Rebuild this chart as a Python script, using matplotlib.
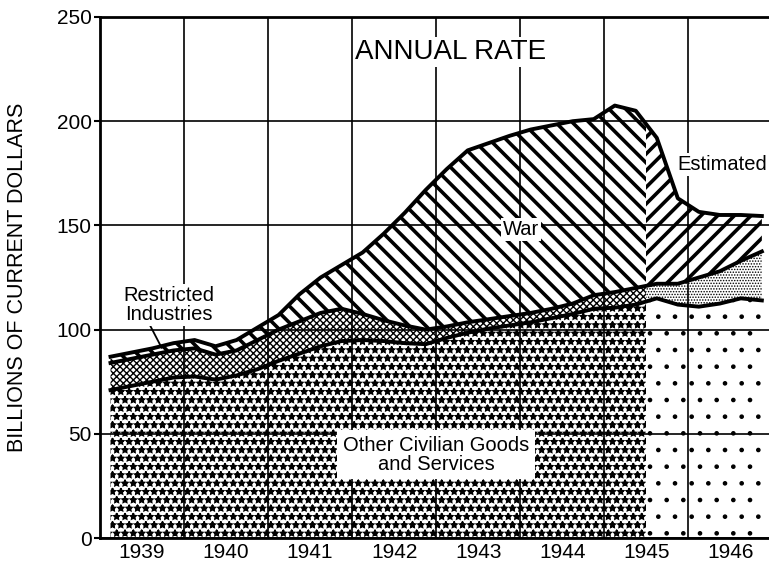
import numpy as np
import matplotlib.pyplot as plt
from matplotlib.patches import Rectangle

plt.rcParams['font.family'] = ['Liberation Sans', 'DejaVu Sans']

years = [1939, 1940, 1941, 1942, 1943, 1944, 1945, 1946]
quarter_mid = [0.125, 0.375, 0.625, 0.875]
estimate_start = 1945.5   # second half of 1945 on is estimated

# billions of current dollars, annual rate, one value per quarter
civilian = [71, 73, 75, 77, 77.5, 76, 78, 81, 85, 88.5, 92, 94.5,
            95, 94.5, 93.5, 93, 96, 98.5, 100.5, 102, 103.5, 105.5, 107.5, 110,
            110.5, 112, 115, 112, 111, 112.5, 115, 114]
restricted = [13, 13, 13, 13, 13.5, 12, 12, 14, 15, 15.5, 16, 15.5,
              12.5, 10, 8.5, 7, 5.5, 5, 4.5, 4.5, 4.5, 4.5, 5, 6.5,
              7.5, 8, 7, 10, 14, 15.5, 18, 23.5]
war = [3, 3, 3, 3.5, 4, 4, 5, 6, 7, 13, 17, 21,
       29.5, 41.5, 54, 67, 75.5, 82.5, 84.5, 86.5, 88, 88, 87.5, 84.5,
       89.5, 85, 70, 41, 31.5, 27, 22, 17]

x = np.array([yr + q for yr in years for q in quarter_mid])
civ_top = np.array(civilian)
res_top = civ_top + np.array(restricted)
total = res_top + np.array(war)

fig = plt.figure(figsize=(7.69, 5.63), dpi=100)
ax = fig.add_axes([100 / 769, 1 - 538 / 563, 669 / 769, 521 / 563])


def band(lower, upper, hatch, hlw, x0, x1):
    with plt.rc_context({'hatch.linewidth': hlw}):
        poly = ax.fill_between(x, lower, upper, facecolor='white', edgecolor='black',
                               hatch=hatch, linewidth=0, zorder=1)
    if hasattr(poly, 'set_hatch_linewidth'):
        poly.set_hatch_linewidth(hlw)
    poly.set_clip_path(Rectangle((x0, -10), x1 - x0, 300, transform=ax.transData))
    return poly


# actual
band(0, civ_top, '**', 1.2, 1938, estimate_start)
band(civ_top, res_top, 'xxxxx', 1.0, 1938, estimate_start)
band(res_top, total, '\\\\', 2.6, 1938, estimate_start)
# estimated
band(0, civ_top, '.', 0.9, estimate_start, 1948)
band(civ_top, res_top, '......', 0.7, estimate_start, 1948)
band(res_top, total, '//', 2.6, estimate_start, 1948)

for top in (total, res_top, civ_top):
    ax.plot(x, top, color='black', lw=2.8, zorder=3, solid_joinstyle='round')

ax.set_xlim(1939, 1946.96)
ax.set_ylim(0, 250)
ax.set_xticks(years[1:])
ax.set_xticklabels([])
ax.set_xticks([yr + 0.5 for yr in years], minor=True)
ax.set_xticklabels([str(yr) for yr in years], minor=True)
ax.set_yticks([0, 50, 100, 150, 200, 250])
ax.tick_params(axis='x', which='both', length=0, pad=3.5, labelsize=15)
ax.tick_params(axis='y', length=4, width=1.5, pad=2, labelsize=15)
ax.set_axisbelow(False)
ax.grid(True, which='major', color='black', lw=1.2)

for side in ('left', 'bottom', 'top'):
    ax.spines[side].set_linewidth(2)
ax.spines['right'].set_visible(False)

ax.set_ylabel('BILLIONS OF CURRENT DOLLARS', fontsize=15.5)
ax.yaxis.set_label_coords(-0.108, 0.5)

box = dict(facecolor='white', edgecolor='none', pad=1.5)
ax.text(1943.17, 233, 'ANNUAL RATE', ha='center', va='center', fontsize=20, bbox=box, zorder=5)
ax.text(1946.40, 179, 'Estimated', ha='center', va='center', fontsize=14.5, bbox=box, zorder=5)
ax.text(1944.01, 148, 'War', ha='center', va='center', fontsize=14.5, bbox=box, zorder=5)
ax.text(1943.0, 40, 'Other Civilian Goods\nand Services', ha='center', va='center',
        fontsize=14.5, linespacing=1.0, bbox=dict(facecolor='white', edgecolor='none', pad=4), zorder=5)
ax.text(1939.82, 112, 'Restricted\nIndustries', ha='center', va='center', fontsize=14.5,
        linespacing=1.0, bbox=box, zorder=5)
ax.annotate('', xy=(1939.75, 90), xytext=(1939.57, 104),
            arrowprops=dict(arrowstyle='-', lw=1.3, color='black'), zorder=4)

fig.savefig('out.png', dpi=100)
